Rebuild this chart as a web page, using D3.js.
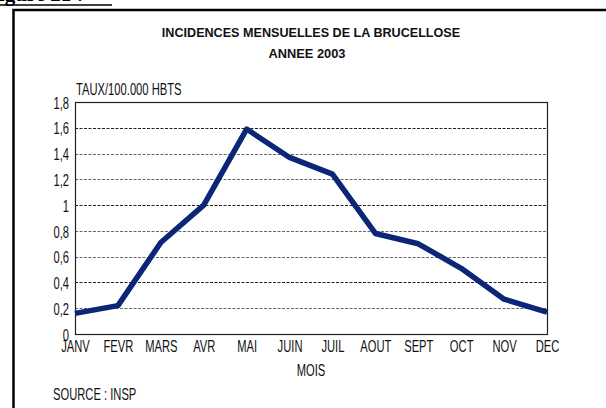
<!DOCTYPE html>
<html>
<head>
<meta charset="utf-8">
<script src="https://cdn.jsdelivr.net/npm/d3@7"></script>
<style>
  body { margin: 0; background: #fff; }
  svg { display: block; }
  .cond { font-family: "Liberation Sans", Arial, sans-serif; fill: #111; }
</style>
</head>
<body>
<svg id="chart"></svg>
<script>
// mois et taux pour 100.000 habitants
let months = ['JANV', 'FEVR', 'MARS', 'AVR', 'MAI', 'JUIN', 'JUIL', 'AOUT', 'SEPT', 'OCT', 'NOV', 'DEC'];
let rates = [0.16, 0.22, 0.71, 1.0, 1.59, 1.37, 1.24, 0.78, 0.70, 0.51, 0.27, 0.17];
let y_ticks = [0, 0.2, 0.4, 0.6, 0.8, 1, 1.2, 1.4, 1.6, 1.8];

let width = 606, height = 408;
let padding = { 'left': 75, 'right': 60, 'top': 102, 'bottom': 74 };
let sx = 0.7;  // police étroite simulée
let fs = 16;

let svg = d3.select('#chart')
    .attr('width', width)
    .attr('height', height);

// titre du document (coupé en haut)
svg.append('text')
    .attr('x', -14)
    .attr('y', 1)
    .attr('font-family', 'Liberation Serif, serif')
    .attr('font-weight', 'bold')
    .attr('font-size', 21)
    .attr('fill', '#000')
    .text('Figure 21 :');
svg.append('line')
    .attr('x1', 0).attr('x2', 112)
    .attr('y1', 5).attr('y2', 5)
    .attr('stroke', '#000').attr('stroke-width', 1.5);

// cadre
svg.append('path')
    .attr('d', `M13.5,${height} V10 H${width}`)
    .attr('fill', 'none')
    .attr('stroke', '#000')
    .attr('stroke-width', 2.5);

svg.append('text')
    .attr('x', 311).attr('y', 37)
    .attr('text-anchor', 'middle')
    .attr('font-family', 'Liberation Sans, Arial, sans-serif')
    .attr('font-weight', 'bold')
    .attr('font-size', 12.6)
    .attr('fill', '#111')
    .text('INCIDENCES MENSUELLES DE LA BRUCELLOSE');
svg.append('text')
    .attr('x', 307).attr('y', 58)
    .attr('text-anchor', 'middle')
    .attr('font-family', 'Liberation Sans, Arial, sans-serif')
    .attr('font-weight', 'bold')
    .attr('font-size', 12.8)
    .attr('fill', '#111')
    .text('ANNEE 2003');

// x axis
let x = d3.scalePoint()
    .domain(months)
    .range([padding.left, width - padding.right + 1]);

// y axis
let y = d3.scaleLinear()
    .domain([0, 1.8])
    .range([height - padding.bottom, padding.top]);

// grille pointillée
svg.append('g')
    .selectAll('line')
    .data(y_ticks.filter(d => d > 0 && d < 1.8))
    .enter().append('line')
    .attr('x1', padding.left)
    .attr('x2', width - padding.right + 1)
    .attr('y1', d => Math.round(y(d)) + 0.5)
    .attr('y2', d => Math.round(y(d)) + 0.5)
    .attr('stroke', (d, i) => i % 3 === 1 ? '#222' : '#666')
    .attr('stroke-width', 1)
    .attr('stroke-dasharray', '3,1.5');

// cadre du graphique
svg.append('rect')
    .attr('x', padding.left + 0.5)
    .attr('y', padding.top + 0.5)
    .attr('width', width - padding.right + 1 - padding.left)
    .attr('height', height - padding.bottom - padding.top)
    .attr('fill', 'none')
    .attr('stroke', '#222')
    .attr('stroke-width', 1.2);

let axis_y = d3.axisLeft()
    .scale(y)
    .tickValues(y_ticks)
    .tickSize(0)
    .tickPadding(6 / sx)
    .tickFormat(d => String(d).replace('.', ','));

svg.append('g')
    .attr('transform', `translate(${padding.left}, 1)`)
    .call(axis_y)
    .call(g => g.select('.domain').remove())
    .selectAll('text')
    .attr('class', 'cond')
    .attr('font-size', fs)
    .attr('transform', `scale(${sx},1)`);

let axis_x = d3.axisBottom()
    .scale(x)
    .tickSize(0)
    .tickPadding(7);

svg.append('g')
    .attr('transform', `translate(0, ${height - padding.bottom})`)
    .call(axis_x)
    .call(g => g.select('.domain').remove())
    .selectAll('text')
    .attr('class', 'cond')
    .attr('font-size', fs)
    .attr('transform', `scale(${sx},1)`);

function label(txt, px, py, anchor) {
    svg.append('text')
        .attr('class', 'cond')
        .attr('transform', `translate(${px},${py}) scale(${sx},1)`)
        .attr('text-anchor', anchor)
        .attr('font-size', fs)
        .text(txt);
}

label('TAUX/100.000 HBTS', 76, 95, 'start');
label('MOIS', 311, 376, 'middle');
label('SOURCE : INSP', 53, 400, 'start');

// courbe
let line = d3.line()
    .x((d, i) => x(months[i]))
    .y(d => y(d));

svg.append('path')
    .datum(rates)
    .attr('d', line)
    .attr('fill', 'none')
    .attr('stroke', '#0b2677')
    .attr('stroke-width', 5.5)
    .attr('stroke-linejoin', 'round')
    .attr('stroke-linecap', 'butt');
</script>
</body>
</html>
